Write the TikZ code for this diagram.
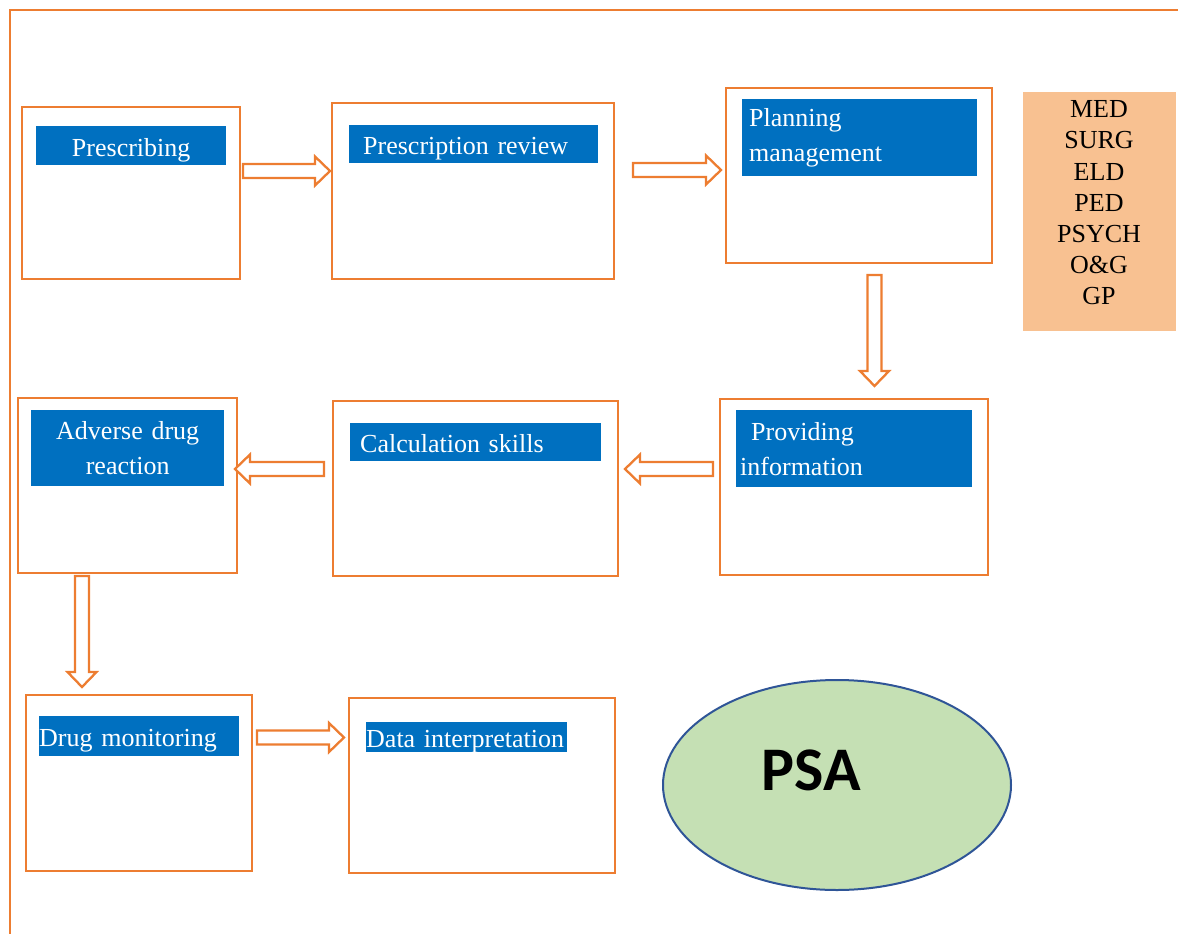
\documentclass[tikz,border=0pt]{standalone}
\usepackage{fontspec}
\setmainfont{Liberation Serif}
\newfontfamily\psafont{Carlito}
\usetikzlibrary{calc,shapes.geometric}
\definecolor{boxline}{HTML}{ED7D31}
\definecolor{barblue}{HTML}{0070C0}
\definecolor{peach}{HTML}{F8C191}
\definecolor{psagreen}{HTML}{C5E0B4}
\definecolor{psaline}{HTML}{2F5597}

\begin{document}
\begin{tikzpicture}[x=1pt,y=-1pt,
  every node/.style={font=\fontsize{26}{35}\selectfont},
  stage/.style={draw=boxline,line width=2pt,inner sep=0pt},
  tag/.style={fill=barblue,text=white,inner xsep=0pt,inner ysep=0pt,
    anchor=north west,align=left},
  oneline/.style={text height=24pt,text depth=3pt},
  fat/.style={draw=boxline,fill=white,line width=2.3pt,
    to path={($(\tikztostart)!7pt!90:(\tikztotarget)$)
      -- ($(\tikztotarget)!15pt!(\tikztostart)!7pt!-90:(\tikztostart)$)
      -- ($(\tikztotarget)!15pt!(\tikztostart)!14.5pt!-90:(\tikztostart)$)
      -- (\tikztotarget)
      -- ($(\tikztotarget)!15pt!(\tikztostart)!14.5pt!90:(\tikztostart)$)
      -- ($(\tikztotarget)!15pt!(\tikztostart)!7pt!90:(\tikztostart)$)
      -- ($(\tikztostart)!7pt!-90:(\tikztotarget)$) -- cycle}}]
\useasboundingbox (0,0) rectangle (1178,934);
\draw[boxline,line width=2pt] (10,934) -- (10,10) -- (1178,10);

\node[stage,minimum width=218pt,minimum height=172pt] (pres) at (131,193) {};
\node[stage,minimum width=282pt,minimum height=176pt] (review) at (473,191) {};
\node[stage,minimum width=266pt,minimum height=175pt] (plan) at (859,175.5) {};
\node[stage,minimum width=268pt,minimum height=176pt] (info) at (854,487) {};
\node[stage,minimum width=285pt,minimum height=175pt] (calc) at (475.5,488.5) {};
\node[stage,minimum width=219pt,minimum height=175pt] (adr) at (127.5,485.5) {};
\node[stage,minimum width=226pt,minimum height=176pt] (mon) at (139,783) {};
\node[stage,minimum width=266pt,minimum height=175pt] (data) at (482,785.5) {};

\node[tag,oneline,text width=190pt,align=center,minimum height=39pt] (presbar) at (36,126) {Prescribing};
\node[tag,oneline,inner xsep=14pt,text width=221pt,minimum height=38pt] (reviewbar) at (349,125) {Prescription review};
\node[tag,inner xsep=7pt,text width=221pt,minimum height=77pt] (planbar) at (742,99) {Planning\\management};
\node[tag,inner xsep=4pt,text width=228pt,minimum height=77pt] (infobar) at (736,410) {\hspace*{11pt}Providing\\information};
\node[tag,oneline,inner xsep=10pt,text width=231pt,minimum height=38pt] (calcbar) at (350,423) {Calculation skills};
\node[tag,text width=193pt,align=center,minimum height=76pt] (adrbar) at (31,410) {Adverse drug\\reaction};
\node[tag,oneline,text width=200pt,minimum height=40pt] (monbar) at (39,716) {Drug monitoring};
\node[tag,oneline,text width=201pt,minimum height=30pt] (databar) at (366,722) {Data interpretation};

\fill[peach] (1023,92) rectangle (1176,331);
\node[align=center,font=\fontsize{26}{31.2}\selectfont] (wards) at (1099,203)
  {MED\\SURG\\ELD\\PED\\PSYCH\\O\&G\\GP};

\node[ellipse,draw=psaline,fill=psagreen,line width=2pt,
  minimum width=348pt,minimum height=210pt,
  label={[font=\psafont\bfseries\fontsize{62}{70}\selectfont,xshift=-26pt,yshift=15pt]center:PSA}]
  (psa) at (837,785) {};

\draw[fat] ([xshift=2pt,yshift=22pt]pres.east) to ([xshift=-1pt,yshift=20pt]review.west);
\draw[fat] ([xshift=18pt,yshift=21pt]review.east) to ([xshift=-4pt,yshift=5.5pt]plan.west);
\draw[fat] ([xshift=15.5pt,yshift=-11pt]plan.south) to ([xshift=20.5pt,yshift=12pt]info.north);
\draw[fat] ([xshift=-6pt,yshift=18pt]info.west) to ([xshift=6pt,yshift=19.5pt]calc.east);
\draw[fat] ([xshift=-8pt,yshift=19.5pt]calc.west) to ([xshift=-3pt,yshift=16.5pt]adr.east);
\draw[fat] ([xshift=-45.5pt,yshift=-2pt]adr.south) to ([xshift=-57pt,yshift=7pt]mon.north);
\draw[fat] ([xshift=4pt,yshift=45.5pt]mon.east) to ([xshift=-4pt,yshift=48pt]data.west);
\end{tikzpicture}
\end{document}
